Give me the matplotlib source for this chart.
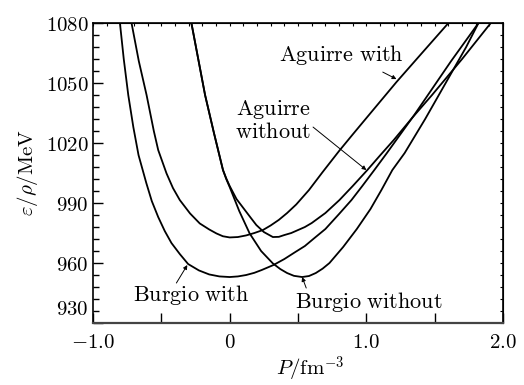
import matplotlib
matplotlib.use('Agg')
import matplotlib.pyplot as plt
import matplotlib.transforms as mtransforms
from matplotlib.ticker import MultipleLocator, NullFormatter

plt.rcParams['mathtext.fontset'] = 'cm'
plt.rcParams['font.family'] = 'serif'
plt.rcParams['font.serif'] = ['DejaVu Serif']

# curves: pressure P (fm^-3) and energy per baryon (MeV)
burgio_with_p = [-0.803, -0.775, -0.742, -0.705, -0.667, -0.61, -0.57, -0.523,
                 -0.475, -0.426, -0.365, -0.304, -0.225, -0.15, -0.075, 0.0,
                 0.06, 0.12, 0.18, 0.234, 0.32, 0.40, 0.48, 0.55, 0.62, 0.70,
                 0.80, 0.891, 0.97, 1.058, 1.15, 1.25, 1.35, 1.45, 1.62, 1.82]
burgio_with_e = [1080, 1062, 1044, 1028, 1014, 1000, 991, 983,
                 976, 970, 964.5, 959.5, 956.3, 954.3, 953.3, 953,
                 953.3, 954, 955.1, 956.5, 959, 962, 965.5, 968.5, 972.5, 977,
                 984.5, 991.5, 998.5, 1006.5, 1015, 1024.5, 1034, 1044, 1061, 1080]

aguirre_with_p = [-0.718, -0.665, -0.608, -0.555, -0.523, -0.462, -0.415,
                  -0.365, -0.29, -0.219, -0.15, -0.097, -0.05, 0.0, 0.06, 0.12,
                  0.18, 0.243, 0.30, 0.36, 0.42, 0.487, 0.58, 0.68, 0.80, 0.90,
                  1.0, 1.11, 1.22, 1.40, 1.60]
aguirre_with_e = [1080, 1061, 1044, 1026, 1016.5, 1004.8, 997.5,
                  991.5, 984.8, 979.8, 976.8, 974.8, 973.4, 972.8, 973, 973.8,
                  975, 976.5, 978.8, 981.6, 985, 989.3, 996.5, 1005.5, 1016, 1024.3,
                  1032.5, 1041.5, 1050.5, 1064.5, 1080]

aguirre_without_p = [-0.28, -0.23, -0.18, -0.115, -0.049, -0.025, 0.0, 0.05,
                     0.10, 0.15, 0.195, 0.25, 0.316, 0.36, 0.40, 0.45, 0.50,
                     0.55, 0.60, 0.70, 0.803, 0.90, 1.007, 1.10, 1.20, 1.34,
                     1.48, 1.70, 1.91]
aguirre_without_e = [1080, 1062, 1044, 1025, 1006.5, 1002.3, 998.5, 992,
                     987.5, 983, 979, 975.5, 973, 973.1, 974, 975, 976.5,
                     978, 980, 985, 991.5, 998.5, 1006.5, 1013.8, 1021.5, 1033,
                     1044, 1062, 1080]

burgio_without_p = [-0.28, -0.23, -0.18, -0.115, -0.049, -0.025, 0.0, 0.07,
                    0.146, 0.23, 0.316, 0.37, 0.42, 0.47, 0.53, 0.58, 0.63,
                    0.68, 0.73, 0.83, 0.93, 1.03, 1.11, 1.19, 1.28, 1.43, 1.58,
                    1.73, 1.82]
burgio_without_e = [1080, 1062, 1044, 1025, 1006.5, 1002, 998, 986,
                    974.8, 966, 959.8, 957, 955, 953.6, 953, 953.5, 955,
                    957.2, 960, 968, 977, 987, 996.5, 1006.5, 1015, 1032, 1050,
                    1068, 1080]

xticks = [-1.0, 0.0, 1.0, 2.0]
xtick_labels = [r'$-1.0$', r'$0$', r'$1.0$', r'$2.0$']
yticks = [930, 960, 990, 1020, 1050, 1080]

fs = 15
fs_lab = 16

fig = plt.figure(figsize=(5.24, 3.85), dpi=100)
ax = fig.add_axes([0.1775, 0.161, 0.7825, 0.779])

for p, e in [(burgio_with_p, burgio_with_e), (aguirre_with_p, aguirre_with_e),
             (aguirre_without_p, aguirre_without_e),
             (burgio_without_p, burgio_without_e)]:
    ax.plot(p, e, color='black', lw=1.3, solid_joinstyle='round')

ax.set_xlim(-1.0, 2.0)
ax.set_ylim(930, 1080)

# bottom / left ticks
ax.set_xticks(xticks)
ax.set_xticklabels(xtick_labels, fontsize=fs)
ax.xaxis.set_minor_locator(MultipleLocator(0.5))
ax.set_yticks(yticks)
ax.set_yticklabels([r'$%d$' % v for v in yticks], fontsize=fs)
ax.yaxis.set_minor_locator(MultipleLocator(6))
ax.tick_params(which='major', direction='in', length=7, width=1.0)
ax.tick_params(axis='x', which='minor', direction='in', length=7, width=1.0)
ax.tick_params(axis='y', which='minor', direction='in', length=4, width=1.0)
ax.tick_params(axis='x', pad=7)
ax.tick_params(axis='y', pad=3)

# the 930 label sits a bit above the axis corner
lab930 = ax.get_yticklabels()[0]
lab930.set_transform(lab930.get_transform() +
                     mtransforms.ScaledTranslation(0, 11 / 72, fig.dpi_scale_trans))

# top / right: short ticks only
top = ax.secondary_xaxis('top')
top.xaxis.set_major_locator(MultipleLocator(0.1))
top.xaxis.set_major_formatter(NullFormatter())
top.tick_params(direction='in', length=2.5, width=0.8)
right = ax.secondary_yaxis('right')
right.yaxis.set_major_locator(MultipleLocator(6))
right.yaxis.set_major_formatter(NullFormatter())
right.tick_params(direction='in', length=2.5, width=0.8)

for s in ax.spines.values():
    s.set_linewidth(1.2)
ax.spines['bottom'].set_linewidth(1.6)
ax.spines['bottom'].set_color('#444444')

ax.set_xlabel(r'$P/\mathrm{fm}^{-3}$', fontsize=fs, labelpad=0)
ax.xaxis.set_label_coords(0.53, -0.105)
ax.set_ylabel(r'$\varepsilon/\rho/\mathrm{MeV}$', fontsize=fs, labelpad=4)

# curve labels with arrows
arrow = dict(arrowstyle='-|>', color='black', lw=0.7, mutation_scale=6,
             shrinkA=0, shrinkB=0)
ax.text(0.82, 1064, r'$\mathrm{Aguirre\ with}$', fontsize=fs_lab, ha='center', va='center')
ax.annotate('', xy=(1.22, 1052), xytext=(1.12, 1055.5), arrowprops=arrow)
ax.text(0.595, 1031.5, r'$\mathrm{Aguirre}$' + '\n' + r'$\mathrm{without}$',
        fontsize=fs_lab, ha='right', va='center', linespacing=1.0,
        multialignment='right')
ax.annotate('', xy=(1.0, 1006.5), xytext=(0.61, 1028), arrowprops=arrow)
ax.text(-0.28, 944, r'$\mathrm{Burgio\ with}$', fontsize=fs_lab, ha='center', va='center')
ax.annotate('', xy=(-0.31, 959), xytext=(-0.39, 950), arrowprops=arrow)
ax.text(1.02, 940.5, r'$\mathrm{Burgio\ without}$', fontsize=fs_lab, ha='center', va='center')
ax.annotate('', xy=(0.53, 953), xytext=(0.56, 947.5), arrowprops=arrow)

fig.savefig('out.png', dpi=100)
